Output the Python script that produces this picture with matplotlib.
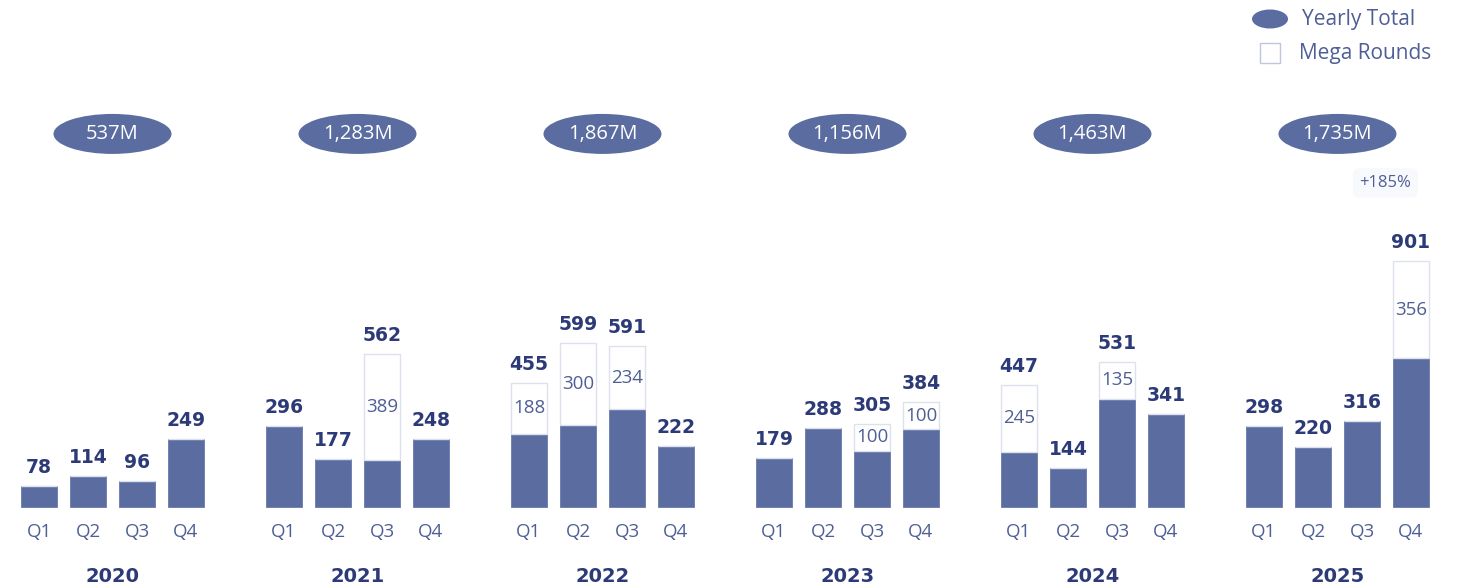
import matplotlib
matplotlib.use("Agg")
import matplotlib.pyplot as plt
from matplotlib.patches import Ellipse, Rectangle

years = ["2020", "2021", "2022", "2023", "2024", "2025"]
quarters = ["Q1", "Q2", "Q3", "Q4"]
totals = [
    [78, 114, 96, 249],
    [296, 177, 562, 248],
    [455, 599, 591, 222],
    [179, 288, 305, 384],
    [447, 144, 531, 341],
    [298, 220, 316, 901],
]
mega = [
    [0, 0, 0, 0],
    [0, 0, 389, 0],
    [188, 300, 234, 0],
    [0, 0, 100, 100],
    [245, 0, 135, 0],
    [0, 0, 0, 356],
]
yearly_totals = ["537M", "1,283M", "1,867M", "1,156M", "1,463M", "1,735M"]
growth_label = "+185%"

BAR = "#5B6DA0"
DARK = "#2C3A78"
MID = "#4F5F96"
EDGE = "#DDE1EE"
FONT = ["Open Sans", "DejaVu Sans"]
BOLD = ["DejaVu Sans"]

fig = plt.figure(figsize=(14.58, 5.88), dpi=100)
ax = fig.add_axes([0, 0, 1, 1])
ax.set_xlim(-0.796, 28.96)
ax.set_ylim(-297, 1857)
ax.axis("off")

pxy = 2154 / 588.0  # data units per pixel (y)
pxx = 29.756 / 1458.0

xs, base, megs, tots, qlab = [], [], [], [], []
for g in range(len(years)):
    for q in range(4):
        xs.append(g * 5 + q)
        tots.append(totals[g][q])
        megs.append(mega[g][q])
        base.append(totals[g][q] - mega[g][q])
        qlab.append(quarters[q])

w = 36 / 49.0
ax.bar(xs, base, width=w, color=BAR, edgecolor=BAR, linewidth=0.5, zorder=2)
ax.bar(xs, megs, bottom=base, width=w, color="white", edgecolor=EDGE, linewidth=1.0, zorder=2)

for x, b, m, t, ql in zip(xs, base, megs, tots, qlab):
    ax.text(x, t + 9 * pxy, f"{t}", ha="center", va="bottom", fontsize=13.5,
            fontweight="bold", color=DARK, family=BOLD)
    if m > 0:
        ax.text(x, b + m / 2, f"{m}", ha="center", va="center", fontsize=13.5,
                color=MID, family=FONT)
    ax.text(x, -25 * pxy, ql, ha="center", va="center", fontsize=13.5,
            color=MID, family=FONT)

for g, (yr, yt) in enumerate(zip(years, yearly_totals)):
    cx = g * 5 + 1.5
    ax.text(cx, -70 * pxy, yr, ha="center", va="center", fontsize=14,
            fontweight="bold", color=DARK, family=BOLD)
    cy = (507 - 134) * pxy
    ax.add_patch(Ellipse((cx, cy), 118 * pxx, 40 * pxy, facecolor=BAR,
                         edgecolor="none", zorder=3))
    ax.text(cx, cy, yt, ha="center", va="center", fontsize=14.5,
            color="white", family=FONT, zorder=4)

# growth annotation
ax.text(26.5 + (1385 - 1337) * pxx, (507 - 183) * pxy, growth_label, ha="center",
        va="center", fontsize=12, color=MID, family=FONT,
        bbox=dict(boxstyle="round,pad=0.4", facecolor="#F8F9FC", edgecolor="none"))

# legend (in figure pixel coords)
def fx(px):
    return px / 1458.0

def fy(py):
    return 1 - py / 588.0

fig.patches.append(Ellipse((fx(1270), fy(19)), 36 / 1458.0, 19 / 588.0,
                           transform=fig.transFigure, facecolor=BAR, edgecolor="none"))
fig.text(fx(1302), fy(19), "Yearly Total", ha="left", va="center", fontsize=15,
         color=MID, family=FONT)
fig.patches.append(Rectangle((fx(1260), fy(63)), 20 / 1458.0, 20 / 588.0,
                             transform=fig.transFigure, facecolor="white",
                             edgecolor="#BFC6DD", linewidth=1.0))
fig.text(fx(1299), fy(53), "Mega Rounds", ha="left", va="center", fontsize=15,
         color=MID, family=FONT)

fig.savefig("out.png", dpi=100, facecolor="white")
